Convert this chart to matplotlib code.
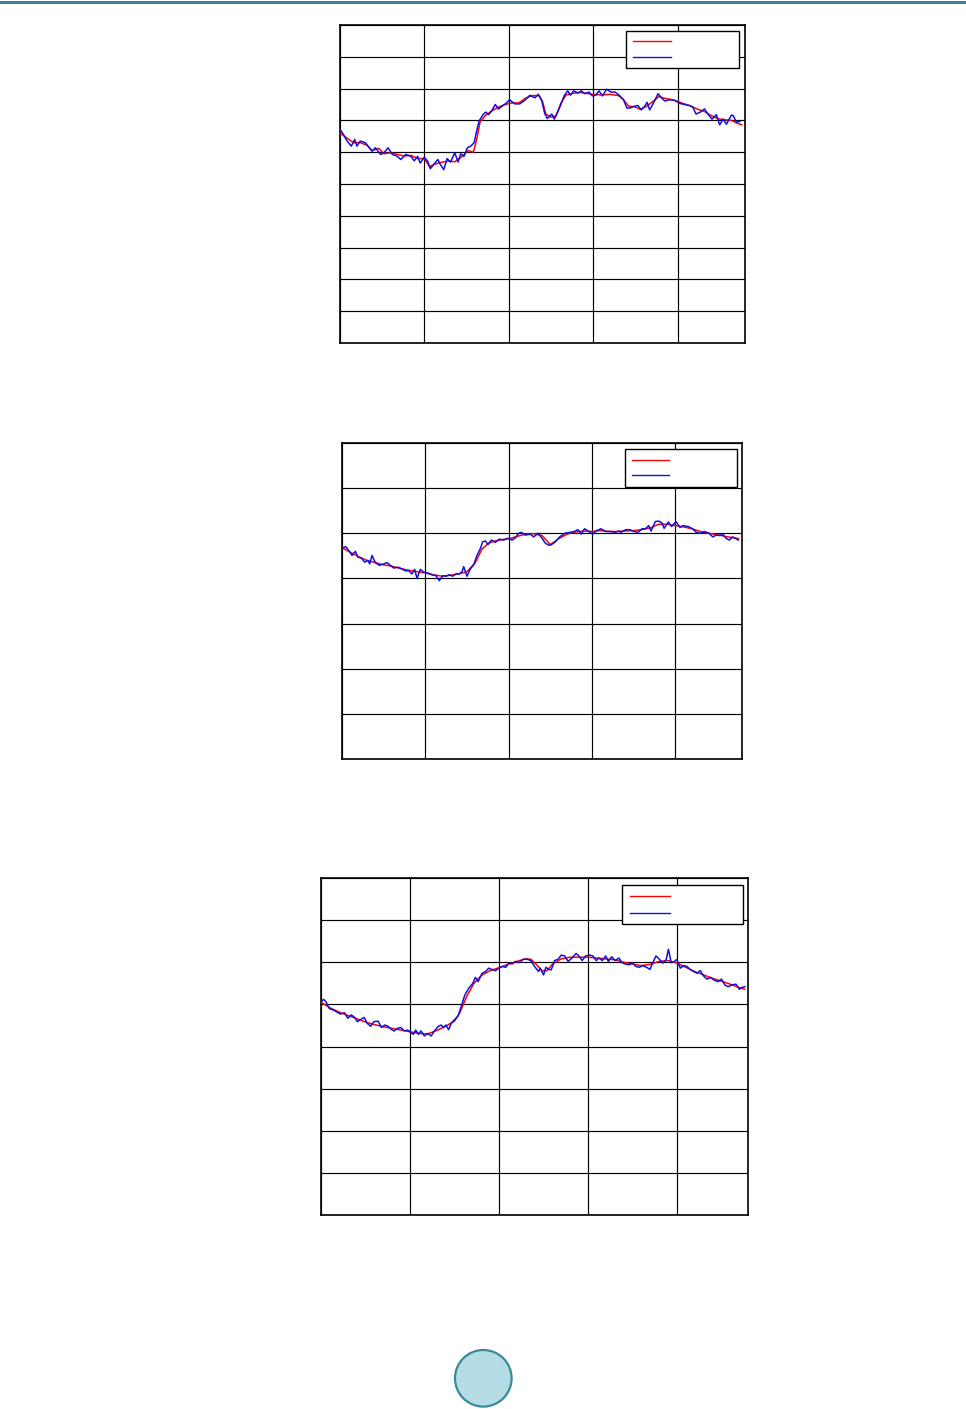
import matplotlib
matplotlib.use("Agg")
import matplotlib.pyplot as plt
from matplotlib.patches import Rectangle, Circle
from matplotlib.lines import Line2D

# ---------------- data ----------------
x_ticks = [0, 50, 100, 150, 200]

p1_blue_x = [0, 2, 4, 6.7, 8.7, 10, 12, 15, 19, 21, 24, 26, 28.5, 31, 34, 36, 39, 42, 44, 46,
             47.5, 50, 52, 53.5, 55.5, 58, 59.5, 61.5, 63.5, 65.5, 68, 70, 71.5, 73.5, 75.5, 77.5, 79.5, 81, 82.5, 85,
             86.5, 88, 90, 92, 94, 96.5, 98.5, 100.5, 103.5, 106.5, 109.5, 112.5, 115.5, 117.5, 119.5,
             121.3, 122.8, 124, 125.5, 127, 129, 131, 133, 135, 136.5, 138.5, 141, 143, 145, 147.5,
             149.5, 151.5, 153.5, 155.5, 158, 160.5, 163, 165.5, 168, 170, 172, 174, 176.5, 178.5, 180.5,
             182, 183.5, 186, 188.5, 190.5, 192.5, 195.5, 198.5, 201, 204, 207, 209, 211, 213.5, 216,
             218, 220.5, 223, 225, 227, 229, 232, 233, 235, 237]
p1_blue_y = [6.72, 6.56, 6.37, 6.19, 6.40, 6.19, 6.35, 6.30, 6.03, 6.14, 5.93, 5.98, 6.14, 5.93, 5.87, 5.77, 5.93, 5.87, 5.73, 5.87,
             5.66, 5.84, 5.71, 5.48, 5.61, 5.77, 5.61, 5.45, 5.80, 5.69, 5.98, 5.69, 5.95, 5.87, 6.14, 6.19, 6.30, 6.67, 6.99, 7.20,
             7.26, 7.18, 7.31, 7.50, 7.36, 7.47, 7.54, 7.65, 7.52, 7.52, 7.63, 7.79, 7.71, 7.82, 7.63,
             7.22, 7.06, 7.12, 7.20, 7.04, 7.26, 7.52, 7.79, 7.93, 7.79, 7.93, 7.86, 7.93, 7.84, 7.89,
             7.77, 7.79, 7.93, 7.77, 7.98, 7.89, 7.89, 7.79, 7.65, 7.39, 7.39, 7.44, 7.47, 7.33, 7.44,
             7.57, 7.33, 7.57, 7.84, 7.71, 7.61, 7.65, 7.63, 7.54, 7.50, 7.47, 7.42, 7.20, 7.26, 7.36,
             7.20, 7.04, 7.18, 6.86, 7.04, 6.88, 7.17, 7.15, 6.94, 6.97]
p1_red_x = [0, 4, 8, 12, 16, 19, 23, 26, 30, 34, 38, 42, 46, 50, 53, 56, 60, 64, 68, 72, 76, 79, 81, 83, 86,
            90, 94, 98, 102, 106, 110, 114, 118, 120, 122, 125, 128, 131, 134, 138, 142, 146, 150, 155, 160,
            165, 168, 171, 175, 178, 182, 186, 189, 192, 196, 200, 204, 208, 212, 216, 220, 224, 228, 232, 235, 238]
p1_red_y = [6.60, 6.45, 6.30, 6.30, 6.22, 6.05, 6.12, 5.95, 5.98, 5.93, 5.88, 5.90, 5.80, 5.80, 5.55, 5.62, 5.68, 5.72, 5.70, 5.85, 6.05, 6.00, 6.40, 6.95, 7.15,
            7.30, 7.42, 7.50, 7.55, 7.55, 7.70, 7.78, 7.78, 7.60, 7.20, 7.10, 7.15, 7.55, 7.80, 7.85, 7.88, 7.85, 7.82, 7.80, 7.82,
            7.78, 7.65, 7.45, 7.42, 7.35, 7.45, 7.62, 7.75, 7.70, 7.66, 7.60, 7.52, 7.45, 7.35, 7.28, 7.15, 7.05, 7.02, 7.00, 6.92, 6.86]

p2_blue_x = [0.4, 2.4, 4, 6, 8, 9.6, 11.6, 13.6, 15.6, 16.6, 18, 20, 22.4, 25, 27, 29, 31, 33.6, 36, 38,
             40, 42, 43.6, 45, 47, 49, 51.6, 54, 56.4, 58.4, 60.4, 62.4, 64.4, 66.4, 68.4, 70.4, 72, 73, 75, 77,
             79, 81, 83, 84.4, 86, 87.6, 89.6, 92, 94.4, 97, 99.6, 102, 104, 106, 107.6, 110, 113, 115, 117.6, 120,
             121.8, 123.7, 125.3, 127.7, 130.6, 133.6, 136.6, 139.5, 141.5, 143.5, 145.5, 147.8, 150.4, 152.4, 155.3,
             158.3, 161.3, 163.6, 166.2, 167.2, 170.2, 172.7, 175.1, 177.5, 180, 182, 184, 185.4, 188, 190,
             192, 193.3, 195.8, 197.8, 200.4, 202.8, 204.7, 207.7, 210.3, 212.6, 215, 217.6, 220.2, 222.5, 224.5,
             226.5, 228.5, 230.4, 232.4, 234.4, 236, 237.7]
p2_blue_y = [4.68, 4.70, 4.62, 4.51, 4.60, 4.47, 4.45, 4.36, 4.40, 4.32, 4.51, 4.35, 4.29, 4.32, 4.35, 4.29, 4.23, 4.25, 4.21, 4.17,
             4.17, 4.10, 4.20, 4.00, 4.20, 4.14, 4.12, 4.08, 4.06, 3.95, 4.06, 4.05, 4.08, 4.05, 4.10, 4.10, 4.15, 4.26, 4.05, 4.21,
             4.30, 4.51, 4.66, 4.81, 4.83, 4.75, 4.85, 4.80, 4.87, 4.85, 4.89, 4.85, 4.90, 5.00, 5.02, 4.96, 4.98, 4.92, 5.00, 4.89,
             4.79, 4.74, 4.74, 4.80, 4.92, 5.00, 5.02, 5.04, 5.08, 4.98, 5.10, 5.05, 4.98, 5.05, 5.10,
             5.04, 5.04, 5.02, 5.05, 5.02, 5.08, 5.08, 5.04, 5.02, 5.10, 5.10, 5.17, 5.05, 5.26, 5.27,
             5.23, 5.11, 5.25, 5.15, 5.26, 5.13, 5.17, 5.15, 5.10, 5.02, 5.00, 5.04, 5.00, 4.92, 4.96,
             4.95, 4.98, 4.89, 4.85, 4.92, 4.89, 4.85]
p2_red_x = [0, 5, 10, 15, 20, 25, 30, 35, 40, 45, 50, 55, 60, 65, 70, 75, 80, 84, 88, 92, 96, 100, 105, 110, 115,
            120, 125, 130, 135, 140, 145, 150, 155, 160, 165, 170, 175, 180, 185, 190, 195, 200, 205, 210, 215,
            220, 225, 230, 235, 238]
p2_red_y = [4.68, 4.58, 4.48, 4.40, 4.35, 4.30, 4.27, 4.22, 4.18, 4.15, 4.12, 4.08, 4.05, 4.07, 4.10, 4.15, 4.35, 4.65, 4.78, 4.83, 4.86, 4.88, 4.93, 4.98, 4.99,
            4.95, 4.75, 4.88, 4.98, 5.03, 5.05, 5.04, 5.06, 5.04, 5.04, 5.05, 5.06, 5.08, 5.12, 5.20, 5.20, 5.17, 5.14, 5.10, 5.04,
            5.00, 4.97, 4.93, 4.90, 4.88]

p3_blue_x = [0, 1.5, 2.8, 4.7, 6.6, 8.5, 10.9, 13.2, 15.1, 17, 18.9, 20.4, 22.3, 24.2, 26, 27.9, 29.8, 32.1, 34, 35.8,
             37.7, 39.6, 41.1, 43, 44.9, 46.8, 48.7, 50.6, 51.9, 53.2, 54.7, 56.2, 58.1, 60, 61.9, 63.8, 65.7, 67.5, 68.9, 70.2,
             71.7, 73.2, 75.1, 77, 78.9, 80.8, 83, 85.3, 86.8, 88.3, 90.6, 92.5, 94.3, 96.6, 98.1, 100, 101.9, 103.8, 105.7, 107.5,
             109.4, 111.3, 113.6, 116, 117.9, 120.4, 122.3, 123.2, 125.1, 126.4, 128, 129.4, 131.3, 133.2,
             135.1, 137, 138.9, 141.1, 143.4, 144.9, 146.8, 148.7, 150.9, 152.8, 154.7, 156.2, 158.1, 160, 161.5,
             163.4, 165.3, 167.5, 169.1, 170.9, 173.2, 175.1, 177, 178.9, 180.8, 183, 184.9, 186.4, 188.3, 190.2,
             192.1, 194, 195.3, 196.8, 198.7, 200, 201.9, 203.8, 205.7, 207.5, 209.4, 211.3, 213.2, 215.1, 217,
             218.9, 220.8, 223.2, 225.1, 227, 228.9, 230.8, 233.2, 235.1, 236.4, 238.3]
p3_blue_y = [5.06, 5.12, 5.06, 4.90, 4.87, 4.83, 4.77, 4.80, 4.67, 4.75, 4.69, 4.59, 4.64, 4.69, 4.55, 4.48, 4.59, 4.60, 4.45, 4.51,
             4.48, 4.40, 4.37, 4.43, 4.45, 4.37, 4.39, 4.33, 4.29, 4.39, 4.29, 4.37, 4.25, 4.31, 4.25, 4.37, 4.47, 4.51, 4.45, 4.51,
             4.40, 4.55, 4.64, 4.72, 4.96, 5.22, 5.38, 5.50, 5.64, 5.54, 5.74, 5.78, 5.86, 5.82, 5.80, 5.86, 5.90, 5.88, 5.98, 5.96,
             6.02, 5.99, 6.07, 6.07, 6.04, 5.88, 5.78, 5.86, 5.70, 5.88, 5.83, 5.82, 6.04, 6.07,
             6.17, 6.15, 6.02, 6.10, 6.21, 6.15, 6.04, 6.15, 6.17, 6.15, 6.04, 6.10, 6.04, 6.15, 6.02,
             6.13, 6.04, 6.10, 5.99, 5.96, 5.94, 5.98, 5.90, 5.88, 5.92, 5.88, 5.83, 5.98, 6.15, 6.07,
             5.98, 6.06, 6.31, 5.99, 6.02, 6.07, 5.86, 5.92, 5.90, 5.83, 5.78, 5.74, 5.80, 5.67, 5.60,
             5.64, 5.58, 5.54, 5.60, 5.46, 5.42, 5.46, 5.48, 5.36, 5.40, 5.42]
p3_red_x = [0, 5, 10, 15, 20, 25, 30, 35, 40, 45, 50, 55, 60, 65, 70, 75, 78, 82, 86, 90, 95, 100, 105, 110, 115,
            118, 121, 124, 127, 130, 135, 140, 145, 150, 155, 160, 165, 170, 175, 180, 185, 190, 195, 200, 205,
            210, 215, 220, 225, 230, 235, 238]
p3_red_y = [5.05, 4.92, 4.82, 4.74, 4.66, 4.58, 4.52, 4.47, 4.43, 4.39, 4.35, 4.31, 4.30, 4.38, 4.48, 4.60, 4.80, 5.20, 5.50, 5.68, 5.80, 5.87, 5.95, 6.02, 6.08,
            6.07, 5.95, 5.80, 5.80, 5.95, 6.08, 6.12, 6.12, 6.12, 6.10, 6.08, 6.06, 6.00, 5.96, 5.92, 5.95, 6.02, 6.04, 5.98, 5.88,
            5.78, 5.70, 5.62, 5.55, 5.48, 5.40, 5.36]

panels = [
    dict(bx=p1_blue_x, by=p1_blue_y, rx=p1_red_x, ry=p1_red_y, ymax=10,
         box=(340, 25, 745, 343), leg=(626, 31, 739, 68, 633, 671, 41, 57)),
    dict(bx=p2_blue_x, by=p2_blue_y, rx=p2_red_x, ry=p2_red_y, ymax=7,
         box=(342, 443, 742, 759), leg=(625, 449, 737, 487, 632, 669, 460, 475)),
    dict(bx=p3_blue_x, by=p3_blue_y, rx=p3_red_x, ry=p3_red_y, ymax=8,
         box=(321, 878, 748, 1215), leg=(622, 885, 743, 924, 630, 670, 896, 913)),
]

W, H = 966, 1409
fig = plt.figure(figsize=(W / 100, H / 100), dpi=100)
fig.patch.set_facecolor("white")

for p in panels:
    l, t, r, b = p["box"]
    ax = fig.add_axes([l / W, (H - b) / H, (r - l) / W, (b - t) / H])
    ax.plot(p["rx"], p["ry"], color="#ff0000", lw=1.1, zorder=3)
    ax.plot(p["bx"], p["by"], color="#1010e0", lw=1.1, zorder=4)
    ax.set_xlim(0, 240)
    ax.set_ylim(0, p["ymax"])
    ax.set_xticks(x_ticks)
    ax.set_yticks(range(0, p["ymax"] + 1))
    ax.grid(True, color="black", lw=0.85, zorder=1)
    ax.tick_params(length=0, labelbottom=False, labelleft=False)
    for s in ax.spines.values():
        s.set_linewidth(1.2)
        s.set_color("black")
    # legend (entries without label text)
    lx0, ly0, lx1, ly1, hx0, hx1, ry, byy = p["leg"]
    fx = lambda px: (px - l) / (r - l)
    fy = lambda py: (b - py) / (b - t)
    ax.add_patch(Rectangle((fx(lx0), fy(ly1)), fx(lx1) - fx(lx0), fy(ly0) - fy(ly1),
                           transform=ax.transAxes, facecolor="white", edgecolor="black",
                           lw=1.0, zorder=6))
    ax.add_line(Line2D([fx(hx0), fx(hx1)], [fy(ry), fy(ry)], transform=ax.transAxes,
                       color="#ff0000", lw=1.0, zorder=7))
    ax.add_line(Line2D([fx(hx0), fx(hx1)], [fy(byy), fy(byy)], transform=ax.transAxes,
                       color="#1010e0", lw=1.0, zorder=7))

# teal header rule at the very top of the page
fig.add_artist(Line2D([0, 1], [1 - 1.5 / H, 1 - 1.5 / H], transform=fig.transFigure,
                      color="#3a8596", lw=2.2))
# page-number circle
fig.add_artist(Circle((483.3 / 100, (H - 1378.3) / 100), 0.283, transform=fig.dpi_scale_trans,
                      facecolor="#b5dbe5", edgecolor="#3a8a9a", lw=1.6))

fig.savefig("out.png", dpi=100, facecolor="white")
